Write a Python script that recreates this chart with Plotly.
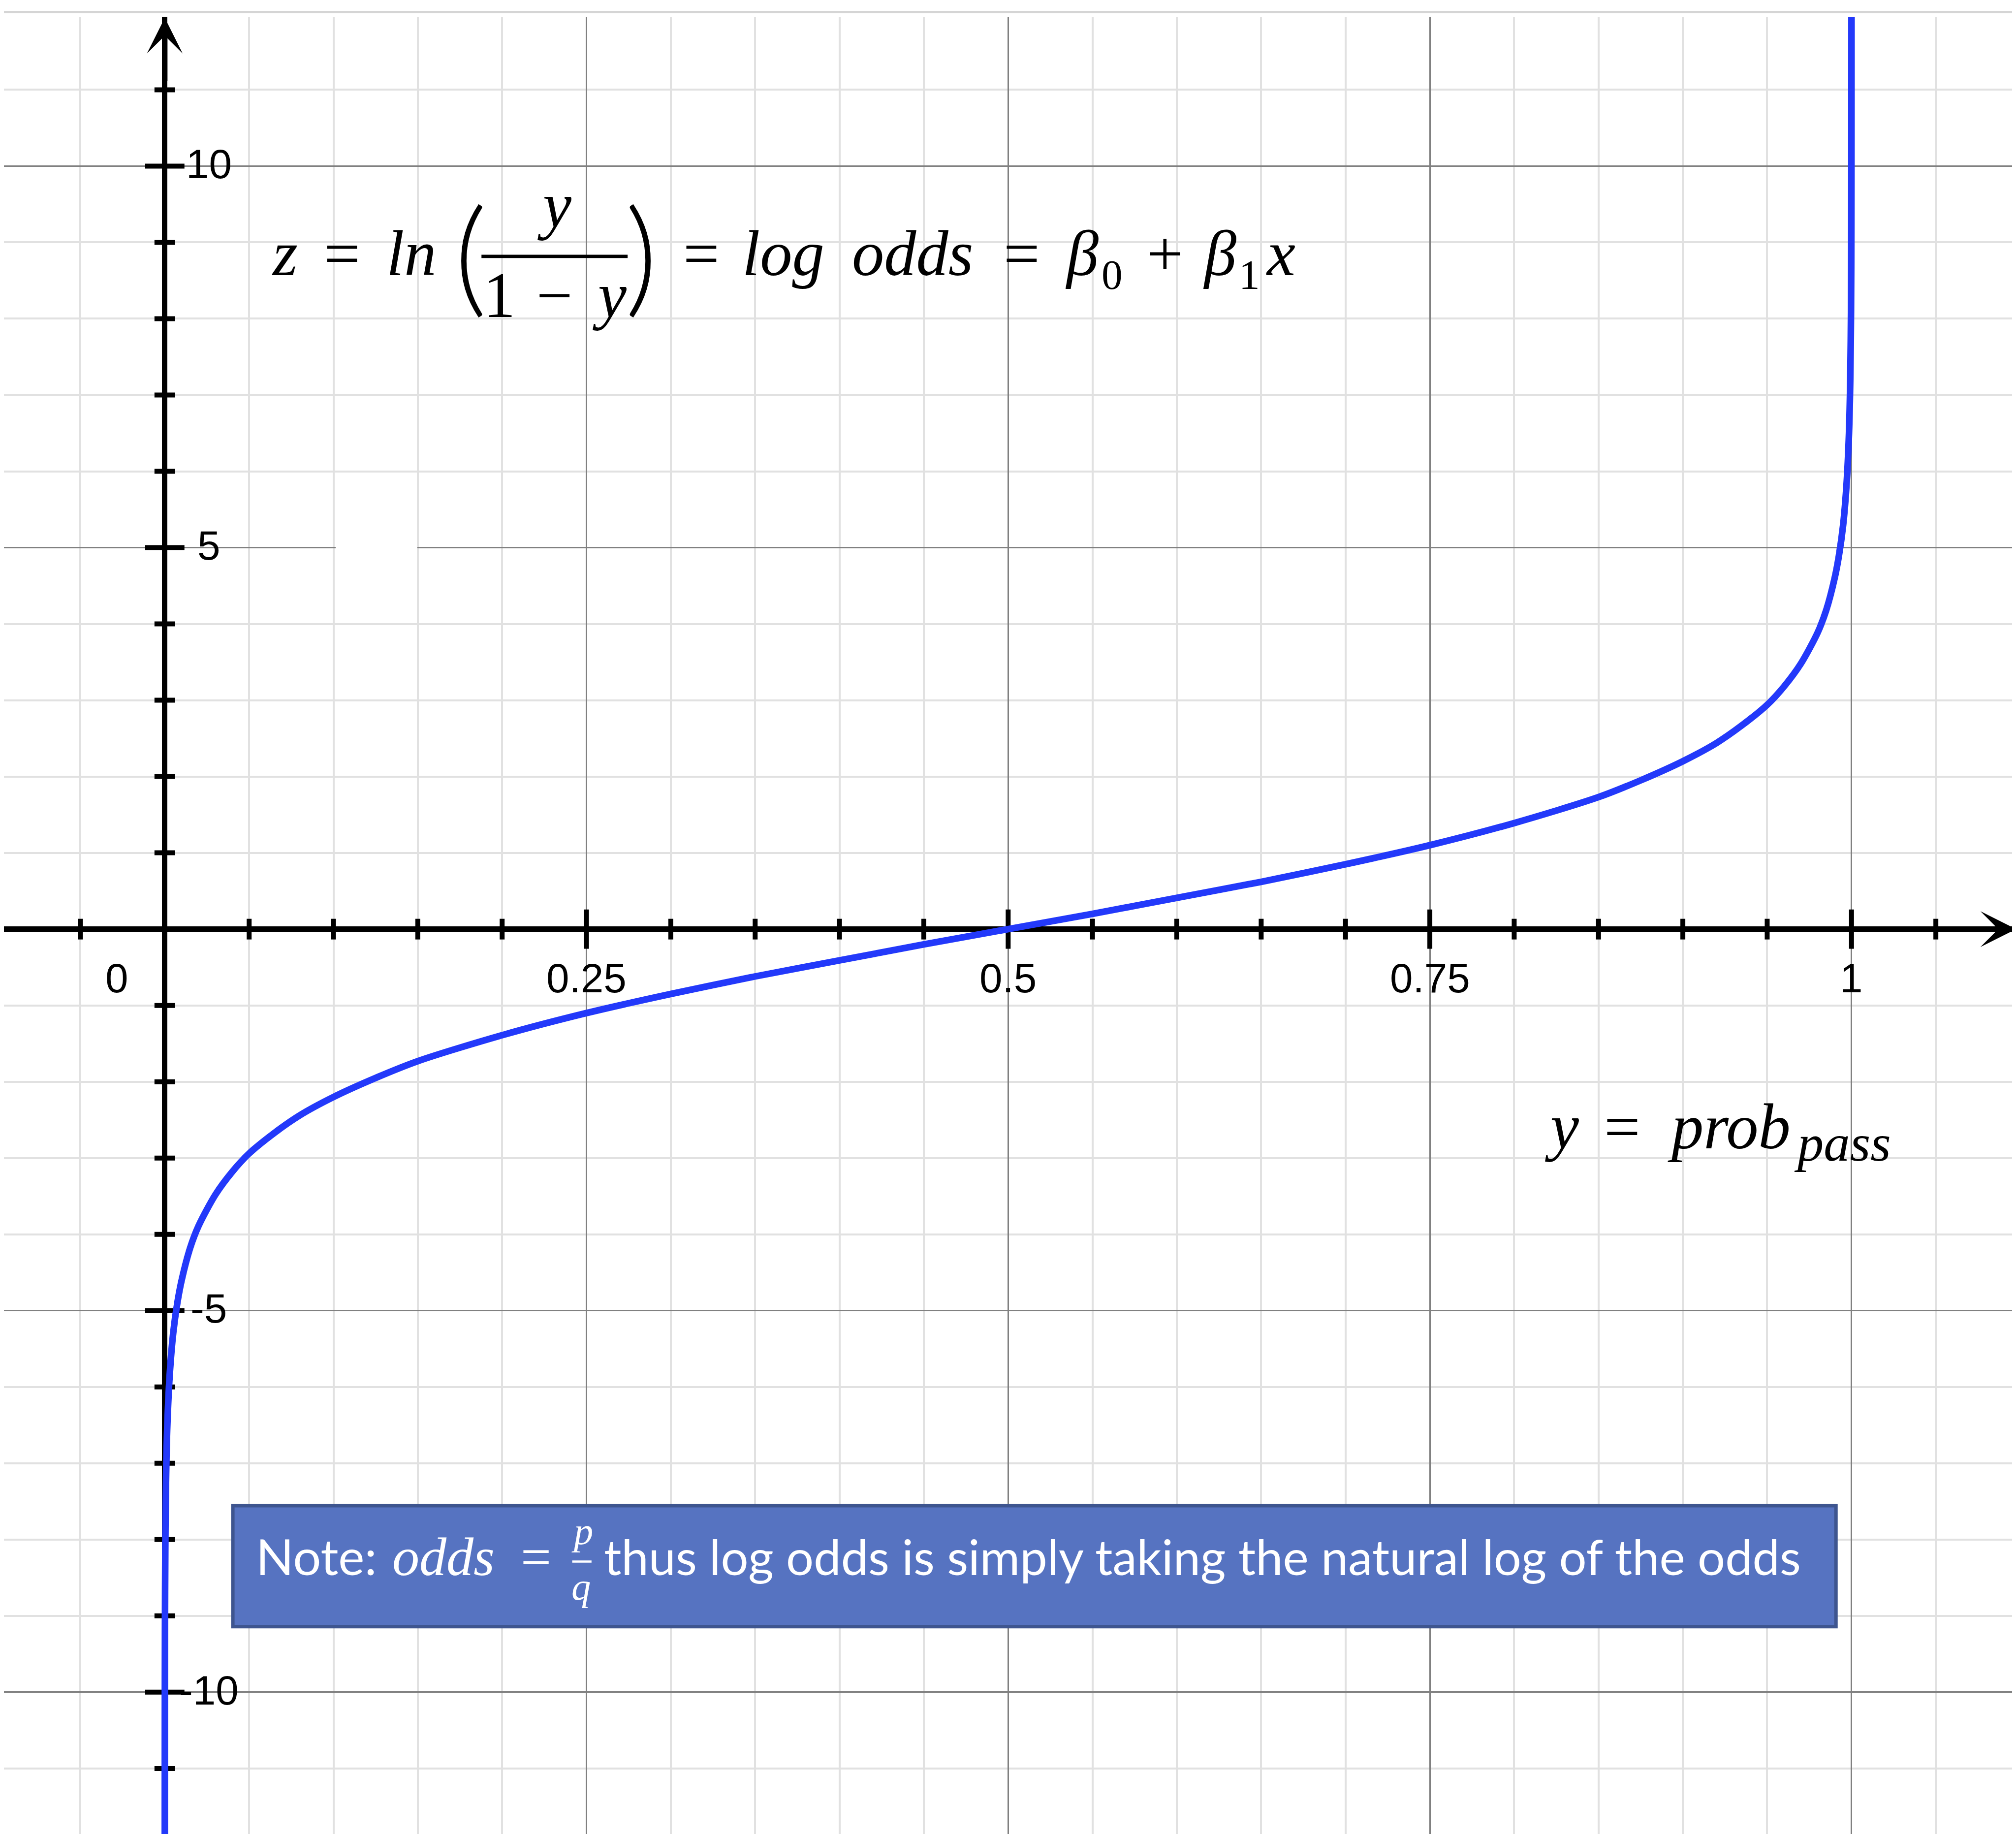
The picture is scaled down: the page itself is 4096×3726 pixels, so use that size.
import plotly.graph_objects as go

# ---------------- data ----------------
prob = [0.000006, 0.00001, 0.00003, 0.0001, 0.0003, 0.0007, 0.0015, 0.003, 0.005, 0.0075,
        0.01, 0.015, 0.02, 0.03, 0.04, 0.05, 0.065, 0.08, 0.1, 0.125, 0.15, 0.2, 0.25,
        0.3, 0.35, 0.4, 0.45, 0.5, 0.55, 0.6, 0.65, 0.7, 0.75, 0.8, 0.85, 0.875, 0.9,
        0.92, 0.935, 0.95, 0.96, 0.97, 0.98, 0.985, 0.99, 0.9925, 0.995, 0.997, 0.9985,
        0.9993, 0.9997, 0.9999, 0.99997, 0.99999, 0.999994]
log_odds = [-12.02, -11.51, -10.41, -9.21, -8.11, -7.26, -6.50, -5.81, -5.29, -4.89,
            -4.60, -4.18, -3.89, -3.48, -3.18, -2.94, -2.67, -2.44, -2.20, -1.95, -1.73, -1.39, -1.10,
            -0.85, -0.62, -0.41, -0.20, 0.0, 0.20, 0.41, 0.62, 0.85, 1.10, 1.39, 1.73, 1.95, 2.20,
            2.44, 2.67, 2.94, 3.18, 3.48, 3.89, 4.18, 4.60, 4.89, 5.29, 5.81, 6.50,
            7.26, 8.11, 9.21, 10.41, 11.51, 12.02]

x_minor_ticks = [-0.05, 0.05, 0.1, 0.15, 0.2, 0.3, 0.35, 0.4, 0.45, 0.55, 0.6, 0.65,
                 0.7, 0.8, 0.85, 0.9, 0.95, 1.05]
x_major_ticks = [0.25, 0.5, 0.75, 1.0]
y_minor_ticks = [-11, -9, -8, -7, -6, -4, -3, -2, -1, 1, 2, 3, 4, 6, 7, 8, 9, 11]
y_major_ticks = [-10, -5, 5, 10]

x_label_vals = [0, 0.25, 0.5, 0.75, 1]
x_label_text = ["0", "0.25", "0.5", "0.75", "1"]
y_label_vals = [10, 5, -5, -10]
y_label_text = ["10", "5", "-5", "-10"]

note_text = "thus log odds is simply taking the natural log of the odds"

# ---------------- geometry helpers (reference pixel -> data) ----------------
W, H = 4096, 3726
RW, RH = 4800, 4366
S = W / RW
X0, XU = 383.0, 4016.0      # ref px of x=0, px per unit
Y0, YU = 2202.5, 181.65     # ref px of y=0, px per unit


def dx(X):
    return (X - X0) / XU


def dy(Y):
    return (Y0 - Y) / YU


SERIF = "Liberation Serif"
SANS = "Liberation Sans, Arial"
LATO = "Lato"
KOFF = {SERIF: 0.3375, SANS: 0.3465, LATO: 0.387}

annotations = []


def txt(s, X, baseline, size, family, anchor="center", color="black",
        style="normal", weight="normal", yc=None):
    if yc is None:
        yc = baseline - KOFF[family] * size
    annotations.append(dict(
        text=s, x=dx(X), y=dy(yc), xref="x", yref="y", xanchor=anchor,
        yanchor="middle", showarrow=False, borderpad=0, borderwidth=0,
        font=dict(family=family, size=size * S, color=color, style=style, weight=weight)))


fig = go.Figure()

# tick marks on the axes
fig.add_trace(go.Scatter(x=x_minor_ticks, y=[0] * len(x_minor_ticks), mode="markers",
                         marker=dict(symbol="line-ns", size=30, line=dict(width=10, color="black")),
                         hoverinfo="skip"))
fig.add_trace(go.Scatter(x=x_major_ticks, y=[0] * len(x_major_ticks), mode="markers",
                         marker=dict(symbol="line-ns", size=57, line=dict(width=10, color="black")),
                         hoverinfo="skip"))
fig.add_trace(go.Scatter(x=[0] * len(y_minor_ticks), y=y_minor_ticks, mode="markers",
                         marker=dict(symbol="line-ew", size=30, line=dict(width=10, color="black")),
                         hoverinfo="skip"))
fig.add_trace(go.Scatter(x=[0] * len(y_major_ticks), y=y_major_ticks, mode="markers",
                         marker=dict(symbol="line-ew", size=57, line=dict(width=10, color="black")),
                         hoverinfo="skip"))

# the logit curve
fig.add_trace(go.Scatter(x=prob, y=log_odds, mode="lines",
                         line=dict(color="#2339FA", width=13.5, shape="spline", smoothing=0.8),
                         hoverinfo="skip"))

# tick labels
for v, t in zip(x_label_vals, x_label_text):
    X = X0 + v * XU if v != 0 else 269
    txt(t, X, 2353, 98, SANS)
for v, t in zip(y_label_vals, y_label_text):
    txt(t, 488, None, 98, SANS, yc=Y0 - v * YU - 5)

# main formula
FS = 153
BL = 646
txt("z", 668, BL, FS, SERIF, style="italic")
txt("=", 805, BL, FS, SERIF)
txt("ln", 970, BL, FS, SERIF, style="italic")
txt("(", 1111, None, 300, LATO, weight=300, yc=590)
txt("y", 1311, 531, FS, SERIF, style="italic")
txt("1", 1180, 745, FS, SERIF)
txt("\u2212", 1311, 745, FS, SERIF)
txt("y", 1442, 745, FS, SERIF, style="italic")
txt(")", 1518, None, 300, LATO, weight=300, yc=590)
txt("=", 1660, BL, FS, SERIF)
txt("log", 1856, BL, FS, SERIF, style="italic")
txt("odds", 2164, BL, FS, SERIF, style="italic")
txt("=", 2424, BL, FS, SERIF)
txt("\u03b2", 2566, BL, FS, SERIF, style="italic")
txt("0", 2638, 678, 100, SERIF)
txt("+", 2764, BL, FS, SERIF)
txt("\u03b2", 2894, BL, FS, SERIF, style="italic")
txt("1", 2965, 678, 100, SERIF)
txt("x", 3040, BL, FS, SERIF, style="italic")

# y = prob_pass
BL2 = 2725
txt("y", 3710, BL2, FS, SERIF, style="italic")
txt("=", 3853, BL2, FS, SERIF)
txt("prob", 4108, BL2, FS, SERIF, style="italic")
txt("pass", 4378, 2754, 125, SERIF, style="italic")

# note box text
NB = 3740
txt("Note:", 600, NB, 118, LATO, anchor="left", color="white")
txt("odds", 1046, NB, 129, SERIF, color="white", style="italic")
txt("=", 1267, NB, 129, SERIF, color="white")
txt("p", 1377, 3666, 92, SERIF, color="white", style="italic")
txt("q", 1374, 3799, 92, SERIF, color="white", style="italic")
txt(note_text, 1428, NB, 116, LATO, anchor="left", color="white")

# axis arrows
annotations.append(dict(x=0, y=dy(33), ax=0, ay=130, xref="x", yref="y", text="",
                        showarrow=True, arrowhead=3, arrowsize=1.1, arrowwidth=11,
                        arrowcolor="black"))
annotations.append(dict(x=dx(4791), y=0, ax=-130, ay=0, xref="x", yref="y", text="",
                        showarrow=True, arrowhead=3, arrowsize=1.1, arrowwidth=11,
                        arrowcolor="black"))

shapes = [
    # blank strip at the top and thin grey border line
    dict(type="rect", xref="paper", yref="paper", x0=0, x1=1, y0=1 - 31 / RH, y1=1,
         fillcolor="white", line=dict(width=0), layer="above"),
    dict(type="line", xref="paper", yref="paper", x0=0, x1=1, y0=1 - 19 / RH, y1=1 - 19 / RH,
         line=dict(color="#d5d5d5", width=4.5), layer="above"),
    # small gap in the y=5 grid line
    dict(type="line", xref="x", yref="y", x0=dx(790), x1=dx(984), y0=5, y1=5,
         line=dict(color="white", width=5), layer="between"),
    # fraction bar in formula
    dict(type="line", xref="x", yref="y", x0=dx(1137), x1=dx(1485), y0=dy(601), y1=dy(601),
         line=dict(color="black", width=8 * S), layer="above"),
    # note box
    dict(type="rect", xref="x", yref="y", x0=dx(545), x1=dx(4362), y0=dy(3575), y1=dy(3863),
         fillcolor="#5673C1", line=dict(color="#3E558F", width=7), layer="above"),
    dict(type="line", xref="x", yref="y", x0=dx(1353), x1=dx(1399), y0=dy(3708), y1=dy(3708),
         line=dict(color="white", width=4.5), layer="above"),
]

fig.update_layout(
    width=W, height=H, autosize=False,
    margin=dict(l=0, r=0, t=0, b=0, pad=0),
    paper_bgcolor="white", plot_bgcolor="white", showlegend=False,
    xaxis=dict(range=[dx(0), dx(RW)], tick0=0, dtick=0.25, showgrid=True,
               gridcolor="#808080", gridwidth=2.5,
               minor=dict(tick0=0, dtick=0.05, showgrid=True, gridcolor="#e1e1e1", gridwidth=3.5),
               zeroline=True, zerolinecolor="black", zerolinewidth=11,
               showticklabels=False, ticks="", showline=False, fixedrange=True),
    yaxis=dict(range=[dy(RH), dy(0)], tick0=0, dtick=5, showgrid=True,
               gridcolor="#808080", gridwidth=2.5,
               minor=dict(tick0=0, dtick=1, showgrid=True, gridcolor="#e1e1e1", gridwidth=3.5),
               zeroline=True, zerolinecolor="black", zerolinewidth=11,
               showticklabels=False, ticks="", showline=False, fixedrange=True),
    annotations=annotations,
    shapes=shapes,
)

fig.write_html("out.html", config={"displayModeBar": False})
